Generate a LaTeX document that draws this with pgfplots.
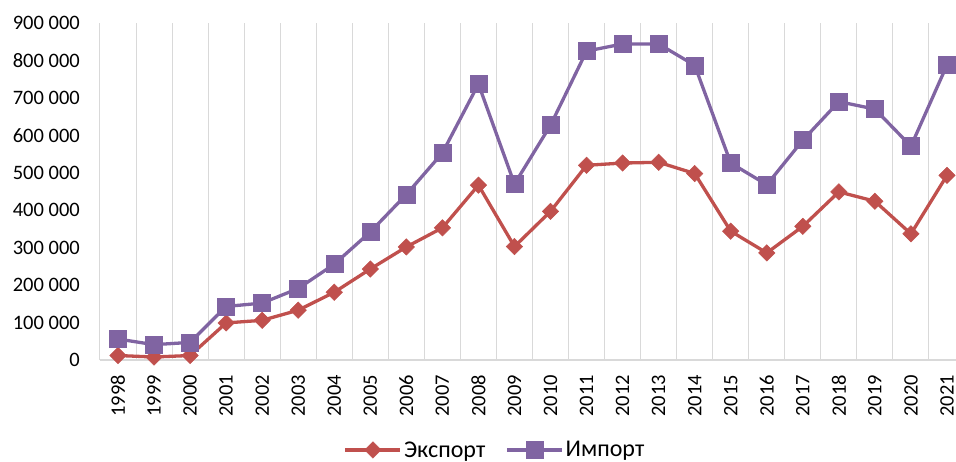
\documentclass[border=0pt]{standalone}
\usepackage{pgfplots}
\pgfplotsset{compat=1.18}
\usepackage{fontspec}
\setmainfont{Carlito}
\definecolor{exred}{HTML}{C0504D}
\definecolor{impurple}{HTML}{8064A2}
\definecolor{gridgray}{HTML}{D9D9D9}
\begin{document}
\begin{tikzpicture}
\begin{axis}[
  scale only axis,
  width=856pt, height=337pt,
  xmin=-0.5, xmax=23.25,
  ymin=0, ymax=900000,
  axis x line*=bottom,
  axis y line*=left,
  x axis line style={draw=none},
  y axis line style={draw=none},
  xtick={0,...,23},
  xticklabels={1998,1999,2000,2001,2002,2003,2004,2005,2006,2007,2008,2009,2010,2011,2012,2013,2014,2015,2016,2017,2018,2019,2020,2021},
  minor xtick={-0.5,0.5,...,22.5},
  xminorgrids=true,
  minor grid style={draw=gridgray, line width=1pt},
  major tick length=0pt, minor tick length=0pt,
  ytick={0,100000,...,900000},
  yticklabels={0,{100 000},{200 000},{300 000},{400 000},{500 000},{600 000},{700 000},{800 000},{900 000}},
  scaled y ticks=false,
  /pgf/number format/assume math mode=true,
  tick label style={font=\fontsize{20.5}{24}\selectfont, text=black},
  xticklabel style={yshift=-15pt, rotate=90, anchor=east, inner sep=0pt},
  yticklabel style={xshift=-20pt, anchor=east, inner sep=0pt},
  clip=false,
  legend style={at={(0.4615,-0.267)}, anchor=center, draw=none, fill=none,
    legend columns=2, font=\fontsize{24}{28}\selectfont, inner sep=0pt,
    nodes={inner xsep=2pt, inner ysep=0pt},
    /tikz/every even column/.append style={column sep=18pt},
    legend cell align=left},
  legend image code/.code={\draw[#1, mark repeat=2, mark phase=2] plot coordinates {(0pt,0pt) (27.5pt,0pt) (55pt,0pt)};},
]
\draw[gridgray, line width=1.3pt] (axis cs:-0.5,0) -- (axis cs:23.25,0);
\addplot[color=exred, line width=3.3pt, mark=square*, mark size=5.8pt, mark options={rotate=45, solid, line width=0.5pt}] coordinates {
(0,12000) (1,8000) (2,12000) (3,99000) (4,106000) (5,133000) (6,181000) (7,243000) (8,302000) (9,353000) (10,467000)
(11,303000) (12,397000) (13,520000) (14,526000) (15,528000) (16,498000) (17,344000) (18,286000) (19,357000) (20,449000) (21,424000) (22,337000) (23,493000)
};
\addlegendentry{Экспорт}
\addplot[color=impurple, line width=3.3pt, mark=square*, mark size=8.5pt, mark options={solid, line width=0.5pt}] coordinates {
(0,56000) (1,41000) (2,47000) (3,143000) (4,152000) (5,191000) (6,256000) (7,342000) (8,442000) (9,553000) (10,737000)
(11,470000) (12,627000) (13,825000) (14,844000) (15,844000) (16,787000) (17,526000) (18,468000) (19,587000) (20,690000) (21,670000) (22,571000) (23,788000)
};
\addlegendentry{Импорт}
\end{axis}
\pgfresetboundingbox
\useasboundingbox (-100pt,-101pt) rectangle (856pt,360pt);
\end{tikzpicture}
\end{document}
